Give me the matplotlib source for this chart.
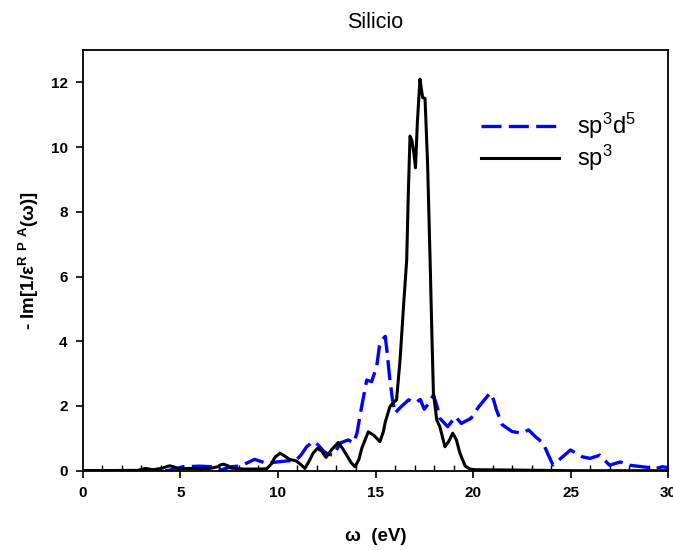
import matplotlib
matplotlib.use('Agg')
import matplotlib.pyplot as plt
from matplotlib.ticker import MultipleLocator

plt.rcParams['font.family'] = ['Liberation Sans', 'DejaVu Sans']
plt.rcParams['mathtext.fontset'] = 'custom'
plt.rcParams['mathtext.rm'] = 'Liberation Sans'
plt.rcParams['mathtext.bf'] = 'Liberation Sans:bold'
plt.rcParams['mathtext.it'] = 'Liberation Sans:italic'

# sp3 curve (black, solid), energies in eV
sp3_w = [0.0, 2.8, 3.2, 3.6, 4.1, 4.3, 4.46, 4.65, 4.9, 5.5, 6.5, 6.9, 7.05,
         7.2, 7.4, 7.6, 8.2, 9.0, 9.42, 9.65, 9.85, 10.1, 10.35, 10.6, 10.94,
         11.15, 11.38, 11.6, 11.8, 12.02, 12.25, 12.46, 12.75, 13.09, 13.3, 13.5,
         13.75, 13.95, 14.15, 14.3, 14.63, 14.9, 15.23, 15.4, 15.5, 15.74, 15.9,
         16.08, 16.26, 16.45, 16.6, 16.68, 16.77, 16.87, 16.97, 17.05, 17.15,
         17.28, 17.35, 17.42, 17.54, 17.67, 17.8, 17.9, 17.97, 18.14, 18.3,
         18.45, 18.56, 18.75, 18.96, 19.15, 19.33, 19.6, 19.85, 20.1, 22.0,
         25.0, 30.0]
sp3_y = [0.0, 0.01, 0.07, 0.03, 0.08, 0.13, 0.15, 0.12, 0.06, 0.07, 0.07,
         0.12, 0.18, 0.2, 0.16, 0.08, 0.05, 0.05, 0.06, 0.2, 0.42, 0.54, 0.45,
         0.35, 0.3, 0.2, 0.07, 0.3, 0.54, 0.69, 0.6, 0.41, 0.65, 0.87, 0.7, 0.5,
         0.25, 0.12, 0.35, 0.7, 1.2, 1.1, 0.9, 1.2, 1.5, 1.98, 2.1, 2.19, 3.43,
         5.2, 6.52, 8.5, 10.34, 10.2, 9.8, 9.36, 10.8, 12.1, 11.8, 11.53, 11.5,
         9.5, 6.5, 4.0, 2.4, 1.57, 1.36, 1.0, 0.74, 0.9, 1.16, 0.95, 0.54, 0.14,
         0.05, 0.03, 0.02, 0.0, 0.0]

# sp3d5 curve (blue, dashed)
spd_w = [0.0, 4.3, 4.7, 5.1, 6.0, 6.7, 7.1, 7.6, 8.1, 8.8, 9.4, 10.1, 10.94,
         11.2, 11.47, 11.8, 12.05, 12.34, 12.6, 12.86, 13.2, 13.6, 13.88, 14.05,
         14.29, 14.55, 14.8, 15.06, 15.2, 15.35, 15.5, 15.6, 15.72, 15.85, 16.0,
         16.3, 16.7, 17.05, 17.3, 17.5, 17.75, 17.97, 18.15, 18.3, 18.7, 19.1,
         19.4, 19.9, 20.3, 20.6, 20.87, 21.05, 21.2, 21.5, 22.0, 22.5, 22.85,
         23.2, 23.6, 23.85, 24.1, 24.5, 25.0, 25.6, 26.0, 26.5, 27.0, 27.55,
         28.0, 28.7, 29.4, 29.7, 30.0]
spd_y = [0.0, 0.0, 0.05, 0.12, 0.14, 0.12, 0.03, 0.12, 0.15, 0.35, 0.23,
         0.28, 0.33, 0.5, 0.74, 0.9, 0.8, 0.6, 0.5, 0.49, 0.86, 0.95, 0.86,
         1.16, 1.98, 2.8, 2.75, 3.22, 3.84, 4.05, 4.15, 3.64, 2.9, 2.29, 1.78,
         1.97, 2.19, 2.1, 2.2, 1.9, 2.1, 2.34, 2.0, 1.62, 1.36, 1.67, 1.46,
         1.62, 1.98, 2.2, 2.4, 2.2, 1.88, 1.42, 1.21, 1.16, 1.26, 1.05, 0.85,
         0.5, 0.18, 0.38, 0.64, 0.43, 0.38, 0.48, 0.17, 0.27, 0.17, 0.12, 0.07,
         0.12, 0.1]

fig = plt.figure(figsize=(6.73, 5.5), dpi=100)
ax = fig.add_axes([0.1233, 0.1442, 0.8693, 0.7649])

ax.plot(spd_w, spd_y, color='#0000ff', lw=2.4, dashes=(6.0, 2.2),
        label='sp$^3$d$^5$')
ax.plot(sp3_w, sp3_y, color='black', lw=2.2, label='sp$^3$')

ax.set_xlim(0, 30)
ax.set_ylim(0, 13)
ax.xaxis.set_major_locator(MultipleLocator(5))
ax.xaxis.set_minor_locator(MultipleLocator(1))
ax.set_yticks([0, 2, 4, 6, 8, 10, 12])

ax.tick_params(axis='both', which='major', direction='out', length=5,
               width=1.2, labelsize=11, pad=6)
ax.tick_params(axis='x', which='minor', direction='in', length=4, width=1.0)
for lab in ax.get_xticklabels() + ax.get_yticklabels():
    lab.set_fontweight('bold')
for s in ax.spines.values():
    s.set_linewidth(1.3)

ax.set_title('Silicio', fontsize=15.5, pad=16)
ax.set_xlabel('ω  (eV)', fontsize=13.5, fontweight='bold', labelpad=20)
ax.set_ylabel(r'- Im[1/ε$^{\mathbf{R\ \,P\ \,A}}$(ω)]', fontsize=13.5,
              fontweight='bold', labelpad=7)

ax.legend(loc='upper left', bbox_to_anchor=(0.652, 0.895), frameon=False,
          fontsize=17, handlelength=3.3, handletextpad=0.75, labelspacing=0.1,
          borderaxespad=0.3)

fig.savefig('out.png', dpi=100)
